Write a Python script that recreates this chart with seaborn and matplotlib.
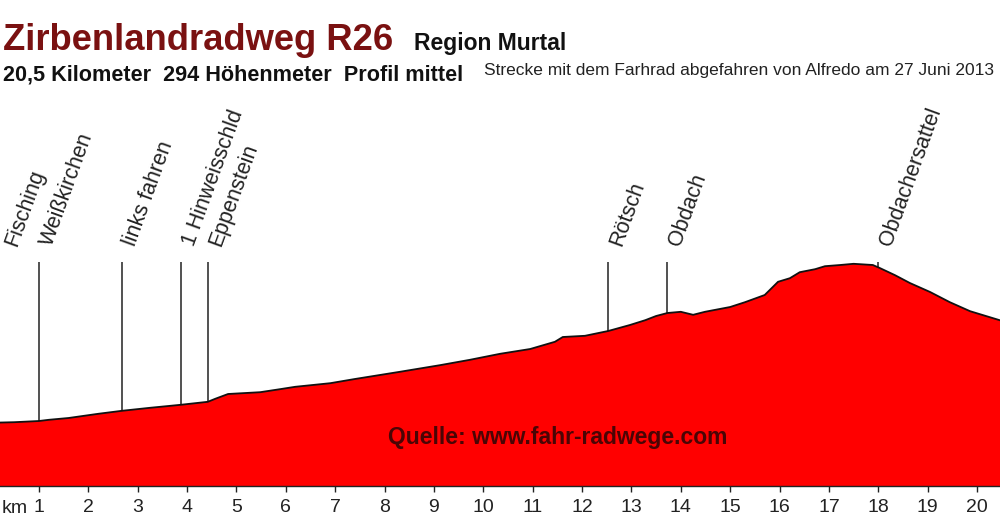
import numpy as np
import matplotlib
matplotlib.use("Agg")
import matplotlib.pyplot as plt
import seaborn as sns
import pandas as pd

# ---------------- data ----------------
km = [0.0, 0.5, 1.0, 1.2, 1.6, 2.2, 2.68, 3.25, 3.87, 4.42, 4.57, 4.83, 5.48, 5.88,
      6.19, 6.9, 7.4, 8.31, 9.12, 9.73, 10.34, 10.95, 11.45, 11.61, 12.06, 12.53,
      12.97, 13.28, 13.5, 13.73, 14.0, 14.25, 14.49, 15.0, 15.3, 15.7, 15.97, 16.21,
      16.41, 16.72, 16.92, 17.23, 17.5, 17.89, 18.03, 18.34, 18.64, 19.05, 19.45,
      19.86, 20.26, 20.5]
elev = [682, 683, 685, 687, 690, 697, 702, 707, 712, 717, 722, 730, 733, 738,
        742, 748, 755, 767, 778, 787, 797, 805, 817, 825, 827, 835,
        845, 853, 860, 865, 867, 862, 867, 875, 883, 895, 917, 923,
        933, 938, 943, 945, 947, 945, 940, 928, 915, 900, 883,
        868, 858, 852]

poi_km = [0.0, 1.0, 2.68, 3.87, 4.42, 12.53, 13.73, 17.99]
poi_name = ["Fisching", "Weißkirchen", "links fahren", "1 Hinweisschld",
            "Eppenstein", "Rötsch", "Obdach", "Obdachersattel"]

tick_km = list(range(1, 21))
tick_labels = [str(t) for t in tick_km]

title = "Zirbenlandradweg R26"
region = "Region Murtal"
stats = "20,5 Kilometer  294 Höhenmeter  Profil mittel"
note = "Strecke mit dem Farhrad abgefahren von Alfredo am 27 Juni 2013"
source = "Quelle: www.fahr-radwege.com"
unit = "km"

# ---------------- style ----------------
sns.set_theme(style="white")
plt.rcParams['font.family'] = ['Liberation Sans', 'DejaVu Sans']

W, H = 1000, 520
fig = plt.figure(figsize=(10, 5.2), dpi=100)
fig.patch.set_facecolor("white")

PX_PER_KM = 49.37
KM0_PX = -10.4
BASE_PX = 486
M_PER_PX = 5.0 / 3.0

ax = fig.add_axes([0, (H - BASE_PX) / H, 1, BASE_PX / H])
ax.set_facecolor("none")
xmin = (0 - KM0_PX) / PX_PER_KM
xmax = (W - KM0_PX) / PX_PER_KM
ymin = 680 - (BASE_PX - 424) * M_PER_PX
ymax = ymin + BASE_PX * M_PER_PX

df = pd.DataFrame({"km": km, "elev": elev})
ax.fill_between(df["km"], df["elev"], ymin, color="#ff0000", lw=0, zorder=1)
sns.lineplot(data=df, x="km", y="elev", ax=ax, color="#111111", lw=1.3, zorder=3)

# markers
top_line = 680 + (424 - 262) * M_PER_PX
lab_y = 680 + (424 - 247) * M_PER_PX
base_vals = np.interp(poi_km, km, elev)
ax.vlines(poi_km, base_vals, top_line, color="#333333", lw=1.2, zorder=2)
for k, name in zip(poi_km, poi_name):
    lx = max(k + 13 / PX_PER_KM, xmin + 17 / PX_PER_KM)
    ax.text(lx, lab_y, name, rotation=70, rotation_mode="anchor",
            ha="left", va="baseline", fontsize=15.5, color="#222222", clip_on=False)

ax.set_xlim(xmin, xmax)
ax.set_ylim(ymin, ymax)
ax.set_xticks(tick_km)
ax.set_xticklabels(tick_labels)
ax.set_yticks([])
ax.set_xlabel("")
ax.set_ylabel("")
for s in ["left", "right", "top"]:
    ax.spines[s].set_visible(False)
ax.spines["bottom"].set_color("#222222")
ax.spines["bottom"].set_linewidth(1.0)
ax.tick_params(axis="x", bottom=True, direction="out", length=4.3, width=1.0,
               color="#222222", labelsize=14, labelcolor="#222222", pad=5)

def fy(y):
    return 1 - y / H

fig.text(3 / W, fy(50), title, ha="left", va="baseline", fontsize=26.2,
         weight="bold", color="#7a1111")
fig.text(414 / W, fy(50), region, ha="left", va="baseline", fontsize=16.5,
         weight="bold", color="#111111")
fig.text(3 / W, fy(80), stats, ha="left", va="baseline", fontsize=15.6,
         weight="bold", color="#111111")
fig.text(484 / W, fy(75), note, ha="left", va="baseline", fontsize=12.5,
         color="#222222")
fig.text(388 / W, fy(444), source, ha="left", va="baseline", fontsize=16.5,
         weight="bold", color="#4a0505", zorder=5)
fig.text(2 / W, fy(513), unit, ha="left", va="baseline", fontsize=14,
         color="#222222")

fig.savefig("out.png", dpi=100, facecolor="white")
